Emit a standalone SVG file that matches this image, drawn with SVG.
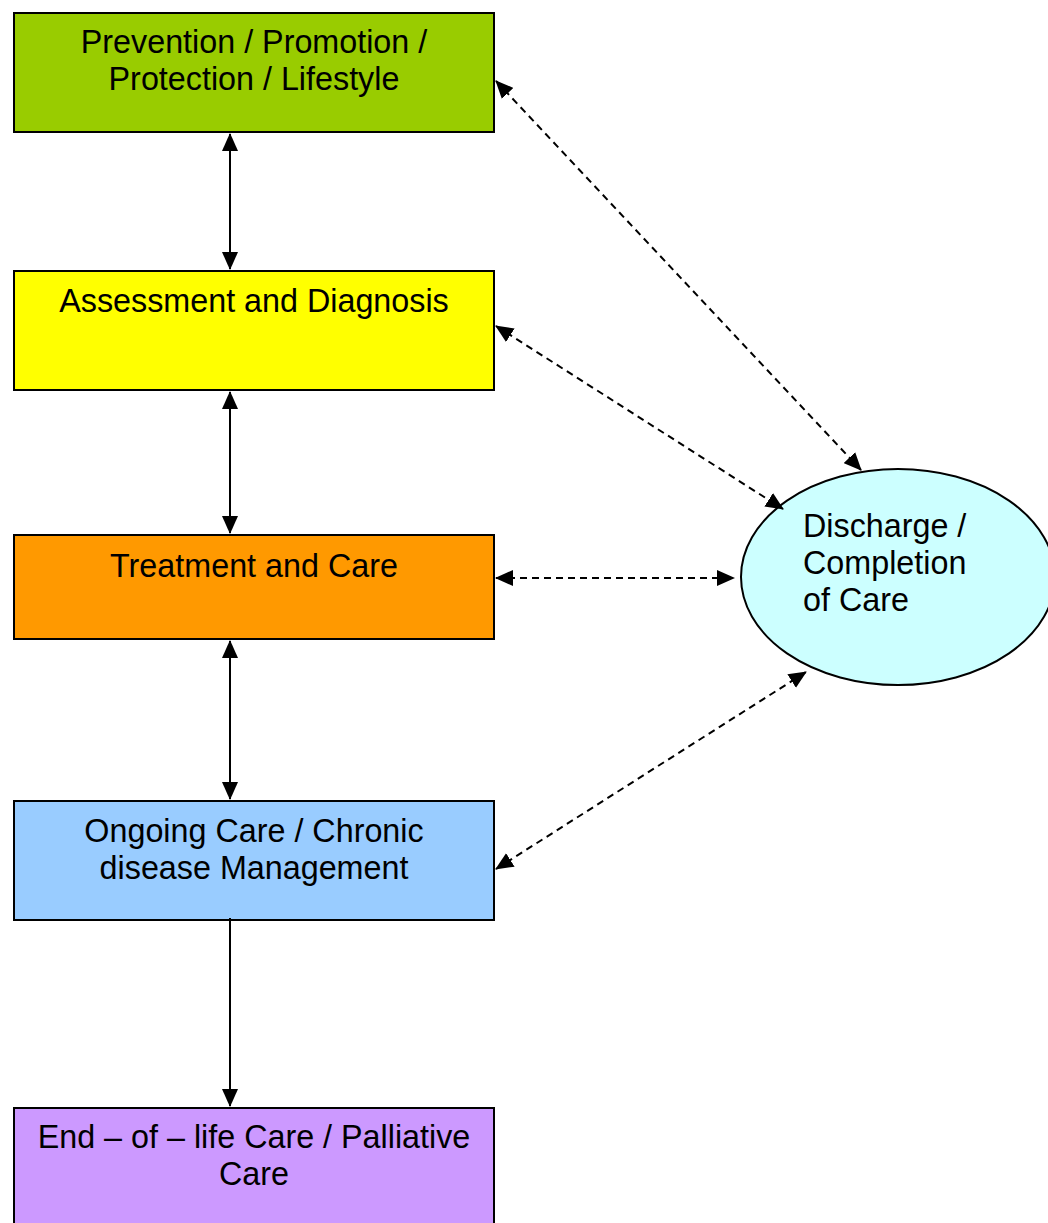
<svg xmlns="http://www.w3.org/2000/svg" width="1048" height="1223" viewBox="0 0 1048 1223">
<style>
.box{stroke:#000;stroke-width:2}
.t{font-family:"Liberation Sans",Arial,sans-serif;font-size:32.3px;fill:#000}
.c{text-anchor:middle}
.ln{stroke:#000;stroke-width:2;fill:none}
.d{stroke-dasharray:7 5}
</style>
<defs>
<marker id="ah" markerUnits="userSpaceOnUse" markerWidth="18" markerHeight="16" viewBox="0 0 18 16" refX="17" refY="8" orient="auto-start-reverse">
<path d="M0,0 L18,8 L0,16 z" fill="#000"/>
</marker>
</defs>
<rect width="1048" height="1223" fill="#fff"/>
<g id="n1"><rect class="box" x="14" y="13" width="480" height="119" fill="#99cc00"/>
<text class="t c" x="254" y="53">Prevention / Promotion /</text><text class="t c" x="254" y="90">Protection / Lifestyle</text></g>
<g id="n2"><rect class="box" x="14" y="271" width="480" height="119" fill="#ffff00"/>
<text class="t c" x="254" y="312">Assessment and Diagnosis</text></g>
<g id="n3"><rect class="box" x="14" y="535" width="480" height="104" fill="#ff9900"/>
<text class="t c" x="254" y="577">Treatment and Care</text></g>
<g id="n4"><rect class="box" x="14" y="801" width="480" height="119" fill="#99ccff"/>
<text class="t c" x="254" y="842">Ongoing Care / Chronic</text><text class="t c" x="254" y="879">disease Management</text></g>
<g id="n5"><rect class="box" x="14" y="1108" width="480" height="130" fill="#cc99ff"/>
<text class="t c" x="254" y="1148">End – of – life Care / Palliative</text><text class="t c" x="254" y="1185">Care</text></g>
<g id="n6"><ellipse class="box" cx="898" cy="577" rx="157" ry="108" fill="#ccffff"/>
<text class="t" x="803" y="537">Discharge /</text><text class="t" x="803" y="574">Completion</text><text class="t" x="803" y="611">of Care</text></g>
<g id="connectors">
<line class="ln" x1="230" y1="134" x2="230" y2="269" marker-start="url(#ah)" marker-end="url(#ah)"/>
<line class="ln" x1="230" y1="392" x2="230" y2="533" marker-start="url(#ah)" marker-end="url(#ah)"/>
<line class="ln" x1="230" y1="641" x2="230" y2="799" marker-start="url(#ah)" marker-end="url(#ah)"/>
<line class="ln" x1="230" y1="918" x2="230" y2="1106" marker-end="url(#ah)"/>
<line class="ln d" x1="496" y1="81" x2="861" y2="470" marker-start="url(#ah)" marker-end="url(#ah)"/>
<line class="ln d" x1="496" y1="326" x2="783" y2="509" marker-start="url(#ah)" marker-end="url(#ah)"/>
<line class="ln d" x1="496" y1="578" x2="734" y2="578" marker-start="url(#ah)" marker-end="url(#ah)"/>
<line class="ln d" x1="496" y1="869" x2="806" y2="672" marker-start="url(#ah)" marker-end="url(#ah)"/>
</g>
</svg>
